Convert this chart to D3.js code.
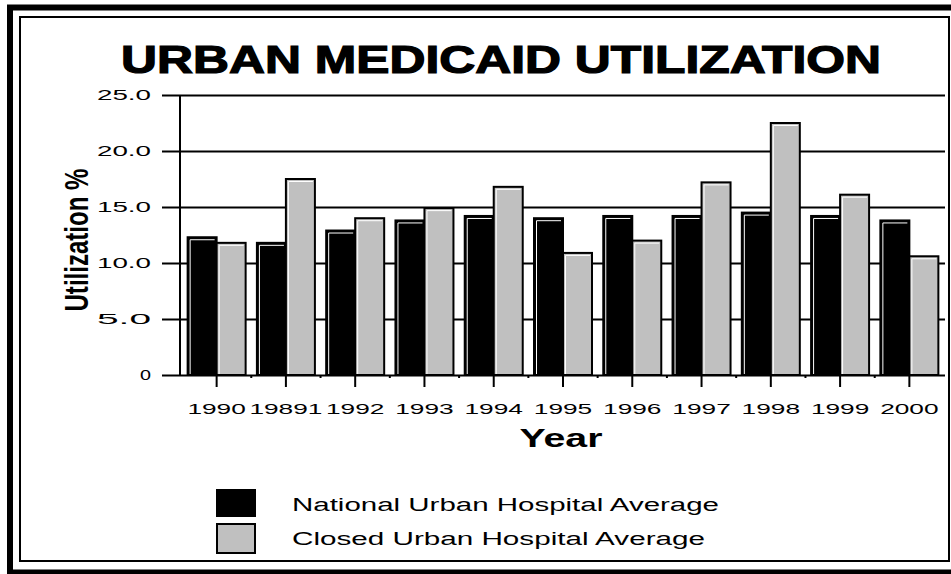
<!DOCTYPE html>
<meta charset="utf-8">
<style>
    body { margin: 0; background: #fff; }
    svg text { font-family: "Liberation Sans", Arial, sans-serif; fill: #000; }
    .title { font-weight: bold; font-size: 38px; stroke: #000; stroke-width: 1.2px; }
    .axis-title { font-weight: bold; }
    .tick-label { font-size: 14px; }
    .x-label { font-size: 15px; }
    .legend text { font-size: 18px; }
</style>

<svg width="951" height="574"></svg>
<script src="https://d3js.org/d3.v7.min.js"></script>

<script>
    // chart values
    // (note: "closed"/"top" are window globals, so the names differ)
    var years = ["1990", "19891", "1992", "1993", "1994", "1995", "1996", "1997", "1998", "1999", "2000"];
    var series = ["National Urban Hospital Average", "Closed Urban Hospital Average"];
    var nationalAvg = [12.3, 11.8, 12.9, 13.8, 14.2, 14.0, 14.2, 14.2, 14.5, 14.2, 13.8];
    var closedAvg = [11.8, 17.5, 14.0, 14.9, 16.8, 10.9, 12.0, 17.2, 22.5, 16.1, 10.6];
    var yTicks = [0, 5, 10, 15, 20, 25];
    var colors = ["#000000", "#c0c0c0"];

    var svg = d3.select("svg");

    // double frame round the whole picture
    svg.append("rect")
        .attr("x", 10).attr("y", 7.5)
        .attr("width", 960).attr("height", 565)
        .style("fill", "none").style("stroke", "#000").style("stroke-width", 6);
    svg.append("rect")
        .attr("x", 20).attr("y", 17)
        .attr("width", 929).attr("height", 544)
        .style("fill", "none").style("stroke", "#000").style("stroke-width", 2);

    svg.append("text")
        .attr("class", "title")
        .attr("x", 501).attr("y", 73)
        .attr("text-anchor", "middle")
        .attr("textLength", 760).attr("lengthAdjust", "spacingAndGlyphs")
        .text("URBAN MEDICAID UTILIZATION");

    var plotL = 180, plotR = 945, plotT = 95, plotB = 375;

    var x = d3.scaleBand().domain(years).range([182, 944]).padding(0);
    var xs = d3.scaleBand().domain(series).range([-29, 29]).padding(0);
    var y = d3.scaleLinear().domain([0, 25]).range([plotB, plotT]);

    // gridlines + y tick labels
    var yAxis = svg.append("g")
        .attr("transform", "translate(" + plotL + ",0)")
        .call(d3.axisLeft(y).tickValues(yTicks).tickSizeOuter(0)
            .tickFormat(function (d) { return d === 0 ? "0" : d3.format(".1f")(d); }));
    yAxis.select(".domain").remove();
    yAxis.attr("font-family", null).attr("font-size", null);
    yAxis.selectAll(".tick line")
        .attr("x1", -18).attr("x2", plotR - plotL)
        .style("stroke", "#000").style("stroke-width", 2);
    yAxis.selectAll(".tick text")
        .attr("class", "tick-label")
        .attr("x", -29).attr("dy", "0.3em")
        .attr("textLength", function (d) { return d === 0 ? 11 : 54; })
        .attr("lengthAdjust", "spacingAndGlyphs");

    svg.append("line")
        .attr("x1", plotL).attr("x2", plotL).attr("y1", plotT).attr("y2", plotB)
        .style("stroke", "#000").style("stroke-width", 2);

    // bars, one flat list
    var bars = [];
    years.forEach(function (yr, i) {
        bars.push({ year: yr, s: series[0], v: nationalAvg[i], j: 0 });
        bars.push({ year: yr, s: series[1], v: closedAvg[i], j: 1 });
    });
    function barX(d) { return x(d.year) + x.bandwidth() / 2 + xs(d.s); }

    svg.append("g").selectAll("rect")
        .data(bars)
        .enter().append("rect")
        .attr("x", barX)
        .attr("y", function (d) { return y(d.v); })
        .attr("width", xs.bandwidth())
        .attr("height", function (d) { return plotB - y(d.v); })
        .style("fill", function (d) { return colors[d.j]; })
        .style("stroke", "#000").style("stroke-width", 2);
    // thin white highlight on left and top edge
    svg.append("g").selectAll("path")
        .data(bars)
        .enter().append("path")
        .attr("d", function (d) {
            var x0 = barX(d) + 2.5, y0 = y(d.v) + 2.5;
            return "M" + x0 + "," + (plotB - 1) + "V" + y0 + "H" + (barX(d) + xs.bandwidth() - 2);
        })
        .style("fill", "none").style("stroke", "#fff").style("stroke-width", 1);

    // x axis ticks and labels
    var xAxis = svg.append("g")
        .attr("transform", "translate(0," + plotB + ")");
    xAxis.selectAll(".major")
        .data(years).enter().append("line")
        .attr("x1", function (d) { return x(d) + x.bandwidth() / 2; })
        .attr("x2", function (d) { return x(d) + x.bandwidth() / 2; })
        .attr("y1", 0).attr("y2", 12)
        .style("stroke", "#000").style("stroke-width", 2);
    xAxis.selectAll(".minor")
        .data(years.slice(1)).enter().append("line")
        .attr("x1", function (d) { return x(d); })
        .attr("x2", function (d) { return x(d); })
        .attr("y1", 0).attr("y2", 3)
        .style("stroke", "#000").style("stroke-width", 2);
    xAxis.selectAll("text")
        .data(years).enter().append("text")
        .attr("class", "x-label")
        .attr("x", function (d) { return x(d) + x.bandwidth() / 2; })
        .attr("y", 39)
        .attr("text-anchor", "middle")
        .attr("textLength", function (d) { return d.length * 14.6; })
        .attr("lengthAdjust", "spacingAndGlyphs")
        .text(function (d) { return d; });

    svg.append("text")
        .attr("class", "axis-title")
        .attr("x", 561).attr("y", 447)
        .attr("text-anchor", "middle")
        .style("font-size", "26px")
        .attr("textLength", 83).attr("lengthAdjust", "spacingAndGlyphs")
        .text("Year");

    svg.append("text")
        .attr("class", "axis-title")
        .attr("transform", "translate(88,240) rotate(-90)")
        .attr("text-anchor", "middle")
        .style("font-size", "34px")
        .attr("textLength", 143).attr("lengthAdjust", "spacingAndGlyphs")
        .text("Utilization %");

    // legend
    var legend = svg.append("g").attr("class", "legend");
    var lg = legend.selectAll("g")
        .data(series).enter().append("g")
        .attr("transform", function (d, i) { return "translate(0," + (i * 34) + ")"; });
    lg.append("rect")
        .attr("x", 217).attr("y", 490)
        .attr("width", 38).attr("height", function (d, i) { return i === 0 ? 26 : 29; })
        .style("fill", function (d, i) { return colors[i]; })
        .style("stroke", "#000").style("stroke-width", 2);
    lg.append("text")
        .attr("x", 292).attr("y", 511)
        .attr("textLength", function (d, i) { return i === 0 ? 427 : 413; })
        .attr("lengthAdjust", "spacingAndGlyphs")
        .text(function (d) { return d; });
</script>
